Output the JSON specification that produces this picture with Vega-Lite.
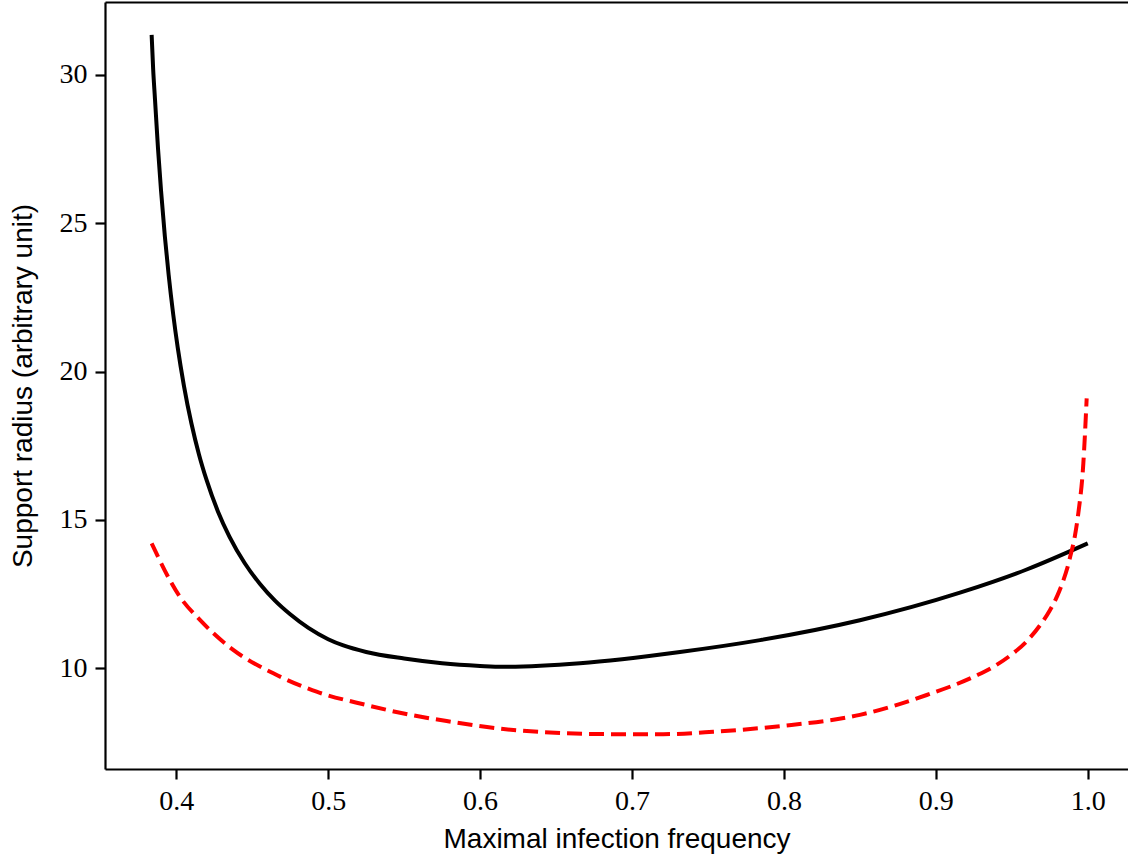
{
  "$schema": "https://vega.github.io/schema/vega-lite/v6.json",
  "width": 1023,
  "height": 767,
  "autosize": {"type": "none"},
  "padding": {"left": 105, "top": 2, "right": 0, "bottom": 90},
  "background": "white",
  "config": {
    "view": {"stroke": null},
    "axis": {
      "domainColor": "black",
      "domainWidth": 2.2,
      "tickColor": "black",
      "tickWidth": 2.2,
      "tickSize": 10,
      "grid": false,
      "labelFont": "Liberation Serif",
      "labelFontSize": 28,
      "labelColor": "black",
      "labelPadding": 8,
      "titleFont": "Liberation Sans",
      "titleFontSize": 28,
      "titleFontWeight": "normal",
      "titleColor": "black"
    }
  },
  "data": {
    "values": [
      {"f": 0.3838, "r": 31.35, "s": "a"},
      {"f": 0.3848, "r": 30.2, "s": "a"},
      {"f": 0.3860, "r": 29.19, "s": "a"},
      {"f": 0.3880, "r": 27.52, "s": "a"},
      {"f": 0.3900, "r": 26.09, "s": "a"},
      {"f": 0.3925, "r": 24.56, "s": "a"},
      {"f": 0.3950, "r": 23.26, "s": "a"},
      {"f": 0.3980, "r": 21.93, "s": "a"},
      {"f": 0.4010, "r": 20.80, "s": "a"},
      {"f": 0.4050, "r": 19.54, "s": "a"},
      {"f": 0.4100, "r": 18.25, "s": "a"},
      {"f": 0.4150, "r": 17.20, "s": "a"},
      {"f": 0.4200, "r": 16.34, "s": "a"},
      {"f": 0.4275, "r": 15.28, "s": "a"},
      {"f": 0.4350, "r": 14.44, "s": "a"},
      {"f": 0.4450, "r": 13.55, "s": "a"},
      {"f": 0.4550, "r": 12.85, "s": "a"},
      {"f": 0.4650, "r": 12.28, "s": "a"},
      {"f": 0.4750, "r": 11.82, "s": "a"},
      {"f": 0.4870, "r": 11.36, "s": "a"},
      {"f": 0.5000, "r": 10.98, "s": "a"},
      {"f": 0.5100, "r": 10.77, "s": "a"},
      {"f": 0.5250, "r": 10.55, "s": "a"},
      {"f": 0.5500, "r": 10.33, "s": "a"},
      {"f": 0.5750, "r": 10.17, "s": "a"},
      {"f": 0.6000, "r": 10.08, "s": "a"},
      {"f": 0.6150, "r": 10.05, "s": "a"},
      {"f": 0.6658, "r": 10.17, "s": "a"},
      {"f": 0.7316, "r": 10.55, "s": "a"},
      {"f": 0.7843, "r": 10.95, "s": "a"},
      {"f": 0.8500, "r": 11.62, "s": "a"},
      {"f": 0.9159, "r": 12.55, "s": "a"},
      {"f": 0.9598, "r": 13.33, "s": "a"},
      {"f": 1.0, "r": 14.21, "s": "a"},
      {"f": 0.3838, "r": 14.21, "s": "b"},
      {"f": 0.4024, "r": 12.41, "s": "b"},
      {"f": 0.4156, "r": 11.63, "s": "b"},
      {"f": 0.4375, "r": 10.62, "s": "b"},
      {"f": 0.4639, "r": 9.83, "s": "b"},
      {"f": 0.4924, "r": 9.21, "s": "b"},
      {"f": 0.5253, "r": 8.76, "s": "b"},
      {"f": 0.5473, "r": 8.50, "s": "b"},
      {"f": 0.5780, "r": 8.22, "s": "b"},
      {"f": 0.6219, "r": 7.92, "s": "b"},
      {"f": 0.6877, "r": 7.78, "s": "b"},
      {"f": 0.7206, "r": 7.78, "s": "b"},
      {"f": 0.7535, "r": 7.86, "s": "b"},
      {"f": 0.7974, "r": 8.05, "s": "b"},
      {"f": 0.8500, "r": 8.43, "s": "b"},
      {"f": 0.8940, "r": 9.10, "s": "b"},
      {"f": 0.9265, "r": 9.75, "s": "b"},
      {"f": 0.9379, "r": 10.05, "s": "b"},
      {"f": 0.9500, "r": 10.47, "s": "b"},
      {"f": 0.9600, "r": 10.92, "s": "b"},
      {"f": 0.9700, "r": 11.55, "s": "b"},
      {"f": 0.9750, "r": 11.95, "s": "b"},
      {"f": 0.9800, "r": 12.45, "s": "b"},
      {"f": 0.9840, "r": 12.97, "s": "b"},
      {"f": 0.9865, "r": 13.37, "s": "b"},
      {"f": 0.9884, "r": 13.75, "s": "b"},
      {"f": 0.9915, "r": 14.45, "s": "b"},
      {"f": 0.9938, "r": 15.23, "s": "b"},
      {"f": 0.9971, "r": 16.91, "s": "b"},
      {"f": 0.9993, "r": 19.10, "s": "b"}
    ]
  },
  "layer": [
    {
      "transform": [{"filter": "datum.s == 'a'"}],
      "mark": {"type": "line", "color": "black", "strokeWidth": 4, "interpolate": "monotone"},
      "encoding": {
        "x": {
          "field": "f", "type": "quantitative",
          "scale": {"domain": [0.3531, 1.0265], "nice": false, "zero": false},
          "axis": {"orient": "bottom", "values": [0.4, 0.5, 0.6, 0.7, 0.8, 0.9, 1.0], "format": ".1f", "title": "Maximal infection frequency", "titlePadding": 10}
        },
        "y": {
          "field": "r", "type": "quantitative",
          "scale": {"domain": [6.605, 32.46], "nice": false, "zero": false},
          "axis": {"values": [10, 15, 20, 25, 30], "format": "d", "title": "Support radius (arbitrary unit)", "titlePadding": 22}
        }
      }
    },
    {
      "transform": [{"filter": "datum.s == 'b'"}],
      "mark": {"type": "line", "color": "#ff0000", "strokeWidth": 4, "strokeDash": [15, 7], "interpolate": "monotone"},
      "encoding": {
        "x": {
          "field": "f", "type": "quantitative",
          "axis": {"orient": "top", "labels": false, "ticks": false, "title": null}
        },
        "y": {"field": "r", "type": "quantitative"}
      }
    }
  ],
  "resolve": {"axis": {"x": "independent"}}
}
